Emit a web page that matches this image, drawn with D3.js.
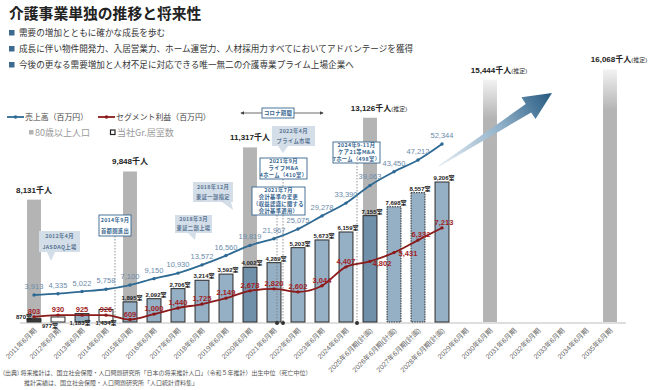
<!DOCTYPE html>
<html><head><meta charset="utf-8">
<script src="https://cdn.jsdelivr.net/npm/d3@7"></script>
<style>
body{margin:0;background:#fff;}
svg{display:block;font-family:"Liberation Sans","Noto Sans CJK JP",sans-serif;}
</style></head><body>
<svg id="c" width="651" height="390"></svg>
<script>
// ---------- data ----------
const categories = ["2011年6月期","2012年6月期","2013年6月期","2014年6月期","2015年6月期","2016年6月期","2017年6月期","2018年6月期","2019年6月期","2020年6月期","2021年6月期","2022年6月期","2023年6月期","2024年6月期","2025年6月期(計画)","2026年6月期(計画)","2027年6月期(計画)","2028年6月期(計画)","2029年6月期","2030年6月期","2031年6月期","2032年6月期","2033年6月期","2034年6月期","2035年6月期"];
const sales  = [3913,4335,5022,5758,7100,9150,10930,13572,16560,19819,21967,25075,29278,33390,39063,43450,47212,52344];
const profit = [803,930,925,926,609,1000,1440,1725,2149,2678,2820,2602,3044,4407,4802,5431,6332,7213];
const rooms  = [870,977,1183,1434,1895,2092,2706,3214,3592,4002,4289,5203,5673,6159,7155,7698,8557,9206];
const popCategories = ["2011年6月期","2015年6月期","2020年6月期","2025年6月期(計画)","2030年6月期","2035年6月期"];
const population = [8131,9848,11317,13126,15444,16068];
const popEstimated = [false,false,false,true,true,true];
const title = "介護事業単独の推移と将来性";
const bullets = ["需要の増加とともに確かな成長を歩む","成長に伴い物件開発力、入居営業力、ホーム運営力、人材採用力すべてにおいてアドバンテージを獲得","今後の更なる需要増加と人材不足に対応できる唯一無二の介護専業プライム上場企業へ"];

// ---------- layout / style (not data) ----------
const BASE = 322;
const svg = d3.select("#c");
const defs = svg.append("defs");
const fmt = d3.format(",");

const x = d3.scaleBand().domain(categories).range([22,622]).paddingInner(0.42).paddingOuter(0.21);
const xc = c => x(c) + x.bandwidth()/2;
const yBar = d3.scaleLinear().domain([670,20000]).range([BASE,5]);
const ySales = d3.scaleLinear().domain([0,60000]).range([307.2,120.1]);
const yProfit = d3.scaleLinear().domain([0,10000]).range([328,189.2]);

const gGray = defs.append("linearGradient").attr("id","grayFade").attr("x1",0).attr("y1",0).attr("x2",0).attr("y2",1);
gGray.append("stop").attr("offset","0%").attr("stop-color","#f2f2f2");
gGray.append("stop").attr("offset","16%").attr("stop-color","#b4b4b4");
gGray.append("stop").attr("offset","100%").attr("stop-color","#b4b4b4");

// ---------- title & bullets ----------
svg.append("text").attr("x",9).attr("y",19).attr("font-size",14.8).attr("font-weight","bold")
  .attr("fill","#222").attr("font-family","Noto Sans CJK JP").text(title);
bullets.forEach((b,i)=>{
  const yy = [36,52,68][i];
  svg.append("rect").attr("x",9).attr("y",yy-6).attr("width",5.5).attr("height",5.5).attr("fill","#3d6a91");
  svg.append("text").attr("x",19).attr("y",yy).attr("font-size",8.6).attr("fill","#333")
    .attr("font-family","Noto Sans CJK JP").text(b);
});

// ---------- legend ----------
const lg = svg.append("g").attr("font-family","Noto Sans CJK JP");
lg.append("line").attr("x1",7).attr("x2",24).attr("y1",117).attr("y2",117).attr("stroke","#2e6a94").attr("stroke-width",1.8);
lg.append("circle").attr("cx",15.5).attr("cy",117).attr("r",1.8).attr("fill","#2e6a94");
lg.append("text").attr("x",25).attr("y",120).attr("font-size",7.9).attr("fill","#444").text("売上高（百万円）");
lg.append("line").attr("x1",98).attr("x2",115).attr("y1",117).attr("y2",117).attr("stroke","#8b1a1a").attr("stroke-width",1.8);
lg.append("circle").attr("cx",106.5).attr("cy",117).attr("r",1.8).attr("fill","#8b1a1a");
lg.append("text").attr("x",116).attr("y",120).attr("font-size",7.9).attr("fill","#444").text("セグメント利益（百万円）");
lg.append("rect").attr("x",29).attr("y",130).attr("width",4.5).attr("height",4.5).attr("fill","#b4b4b4");
lg.append("text").attr("x",35).attr("y",136).attr("font-size",9).attr("fill","#999").text("80歳以上人口");
lg.append("rect").attr("x",110.5).attr("y",130).attr("width",4.5).attr("height",4.5).attr("fill","#fff").attr("stroke","#222").attr("stroke-width",1.2);
lg.append("text").attr("x",117).attr("y",136).attr("font-size",9).attr("fill","#999").text("当社Gr.居室数");

// ---------- gray population bars ----------
const bw = x.bandwidth();
const popG = svg.append("g");
popG.selectAll("rect").data(population).join("rect")
  .attr("x",(d,i)=>x(popCategories[i]))
  .attr("y",d=>yBar(d))
  .attr("width",bw)
  .attr("height",d=>BASE-yBar(d))
  .attr("fill",(d,i)=> i>=4 ? "url(#grayFade)" : "#b4b4b4");
popG.selectAll("text").data(population).join("text")
  .attr("x",(d,i)=>xc(popCategories[i]) + (popEstimated[i]?9:0))
  .attr("y",d=>yBar(d)-7)
  .attr("text-anchor","middle")
  .attr("font-size",8).attr("font-weight","bold").attr("fill","#222")
  .each(function(d,i){
    const t = d3.select(this);
    t.append("tspan").text(fmt(d)+"千人");
    if(popEstimated[i]) t.append("tspan").attr("font-size",6).attr("font-weight","normal").attr("fill","#333").text("(推定)");
  });

// ---------- company room bars ----------
const darker = new Set([9,14]);
const dotted = new Set([15,16]);
const roomFill = {0:"#3a3a3a",1:"#ffffff",3:"#ffffff"};
const roomLabelPos = {0:[-10,319],1:[-8,328],2:[-2,325],3:[0,325]};
const roomG = svg.append("g");
roomG.selectAll("rect").data(rooms).join("rect")
  .attr("x",(d,i)=>x(categories[i]))
  .attr("y",d=>yBar(d))
  .attr("width",bw)
  .attr("height",d=>BASE-yBar(d))
  .attr("fill",(d,i)=> roomFill[i] || (darker.has(i) ? "#7090aa" : "#95afc4"))
  .attr("stroke","#2b2b2b").attr("stroke-width",1)
  .attr("stroke-dasharray",(d,i)=> dotted.has(i) ? "1.5,1" : null);

// ---------- axis ----------
svg.append("line").attr("x1",20).attr("x2",626).attr("y1",BASE+1).attr("y2",BASE+1).attr("stroke","#dedede").attr("stroke-width",2);
const ax = svg.append("g").attr("transform",`translate(0,${BASE})`)
  .call(d3.axisBottom(x).tickSize(0).tickPadding(0));
ax.select(".domain").remove();
ax.selectAll("text").attr("y",0).attr("dy",0)
  .attr("transform","translate(3,9) rotate(-45)")
  .attr("text-anchor","end").attr("font-size",7).attr("fill","#666")
  .attr("font-family","Liberation Sans, Noto Sans CJK JP");

roomG.selectAll("text").data(rooms).join("text")
  .attr("x",(d,i)=>xc(categories[i]) + (roomLabelPos[i]?roomLabelPos[i][0]:2))
  .attr("y",(d,i)=> roomLabelPos[i] ? roomLabelPos[i][1] : yBar(d)-2)
  .attr("text-anchor","middle")
  .attr("font-size",6).attr("font-weight","bold").attr("fill","#222")
  .text(d=>fmt(d)+"室");
roomG.raise();

// ---------- dashed event lines ----------
const ann = svg.append("g");
const dashes = [[115,236],[277,215],[283,179],[357,163]];
dashes.forEach(([dx,top])=>{
  ann.append("line").attr("x1",dx).attr("x2",dx).attr("y1",top).attr("y2",BASE)
    .attr("stroke","#777").attr("stroke-width",0.8).attr("stroke-dasharray","1.5,1.5");
});
[277,283,357].forEach(dx=>ann.append("circle").attr("cx",dx).attr("cy",BASE+1).attr("r",2).attr("fill","#333"));

// ---------- lines ----------
const lineS = d3.line().x((d,i)=>xc(categories[i])).y(d=>ySales(d)).curve(d3.curveMonotoneX);
const lineP = d3.line().x((d,i)=>xc(categories[i])).y(d=>yProfit(d)).curve(d3.curveMonotoneX);
svg.append("path").attr("d",lineS(sales)).attr("fill","none").attr("stroke","#2e6a94").attr("stroke-width",1.8);
svg.append("path").attr("d",lineP(profit)).attr("fill","none").attr("stroke","#8b1a1a").attr("stroke-width",1.8);
svg.append("g").selectAll("circle").data(sales).join("circle")
  .attr("cx",(d,i)=>xc(categories[i])).attr("cy",d=>ySales(d)).attr("r",1.7).attr("fill","#2e6a94");
svg.append("g").selectAll("circle").data(profit).join("circle")
  .attr("cx",(d,i)=>xc(categories[i])).attr("cy",d=>yProfit(d)).attr("r",1.7).attr("fill","#8b1a1a");

svg.append("g").selectAll("text").data(sales).join("text")
  .attr("x",(d,i)=>xc(categories[i])).attr("y",d=>ySales(d)-6)
  .attr("text-anchor","middle").attr("font-size",7.5).attr("fill","#6a8bab")
  .text(d=>fmt(d));
const pOff = {14:[12,8],15:[14,6],16:[3,0],17:[2,0]};
svg.append("g").selectAll("text").data(profit).join("text")
  .attr("x",(d,i)=>xc(categories[i]) + (pOff[i]?pOff[i][0]:0))
  .attr("y",(d,i)=>yProfit(d)-3 + (pOff[i]?pOff[i][1]:0))
  .attr("text-anchor","middle").attr("font-size",7.5).attr("font-weight","bold").attr("fill","#a01e24")
  .text(d=>fmt(d));

// ---------- annotation boxes ----------
const boxes = [
  {x:39,y:231,w:41,h:21,type:"call",lines:["2012年4月","JASDAQ上場"],tail:[[47,252],[55,252],[51,261]]},
  {x:99,y:215,w:32,h:21,type:"box",lines:["2014年9月","首都圏進出"]},
  {x:175,y:215,w:37,h:18,type:"call",lines:["2018年3月","東証二部上場"],tail:[[188,233],[196,233],[195,240]]},
  {x:193,y:182,w:40,h:20,type:"call",lines:["2018年12月","東証一部指定"],tail:[[222,202],[231,202],[233,210]]},
  {x:252,y:187,w:53,h:28,type:"box",lines:["2021年7月","会計基準の変更","（収益認識に関する","会計基準適用）"]},
  {x:260,y:158,w:47,h:21,type:"box",lines:["2021年9月","ライフM&A","4ホーム（410室）"]},
  {x:272,y:126,w:43,h:20,type:"call",lines:["2022年4月","プライム市場"],tail:[[278,146],[288,146],[283,153]]},
  {x:262,y:108,w:32,h:10,type:"box",lines:["コロナ期間"]},
  {x:333,y:142,w:47,h:21,type:"box",lines:["2024年9-11月","ケア21等M&A","7ホーム（498室）"]}
];
defs.append("marker").attr("id","ah").attr("viewBox","0 0 6 6").attr("refX",5).attr("refY",3)
  .attr("markerWidth",5).attr("markerHeight",5).attr("orient","auto-start-reverse")
  .append("path").attr("d","M0,0L6,3L0,6Z").attr("fill","#444");
svg.append("line").attr("x1",241).attr("x2",323).attr("y1",113).attr("y2",113).attr("stroke","#444").attr("stroke-width",0.8)
  .attr("marker-start","url(#ah)").attr("marker-end","url(#ah)");

const bg = svg.append("g").attr("font-family","Noto Sans CJK JP");
boxes.forEach(b=>{
  if(b.type==="call"){
    bg.append("path").attr("d","M"+b.tail.map(p=>p.join(",")).join("L")+"Z").attr("fill","#d3dee8");
    bg.append("rect").attr("x",b.x).attr("y",b.y).attr("width",b.w).attr("height",b.h).attr("fill","#d3dee8");
  } else {
    bg.append("rect").attr("x",b.x).attr("y",b.y).attr("width",b.w).attr("height",b.h).attr("fill","#fff")
      .attr("stroke","#35658f").attr("stroke-width",0.9);
  }
  const n = b.lines.length, lh = b.h/n;
  b.lines.forEach((t,k)=>{
    bg.append("text").attr("x",b.x+b.w/2).attr("y",b.y + lh*(k+0.5) + 1.9)
      .attr("text-anchor","middle").attr("font-size",5.3).attr("font-weight","bold")
      .attr("letter-spacing",0.35)
      .attr("fill", b.type==="call" ? "#5a7593" : "#35658f").text(t);
  });
});

// ---------- big growth arrow ----------
const T=[439,166], P=[552,93];
const dxv=P[0]-T[0], dyv=P[1]-T[1], L=Math.hypot(dxv,dyv);
const u=[dxv/L,dyv/L], nrm=[-u[1],u[0]];
const B=[P[0]-28*u[0], P[1]-28*u[1]];
const pt=(o,s,k)=>[o[0]+k*nrm[0]*s, o[1]+k*nrm[1]*s];
const arrowPts=[pt(T,0.6,1), pt(B,5,1), pt(B,13,1), P, pt(B,13,-1), pt(B,5,-1), pt(T,0.6,-1)];
const ag = defs.append("linearGradient").attr("id","arrowGrad").attr("gradientUnits","userSpaceOnUse")
  .attr("x1",T[0]).attr("y1",T[1]).attr("x2",P[0]).attr("y2",P[1]);
ag.append("stop").attr("offset","0%").attr("stop-color","#e6edf3");
ag.append("stop").attr("offset","55%").attr("stop-color","#8fb0c8");
ag.append("stop").attr("offset","100%").attr("stop-color","#24587f");
svg.append("path").attr("d","M"+arrowPts.map(p=>p.join(",")).join("L")+"Z").attr("fill","url(#arrowGrad)");

// ---------- footnote ----------
const fn = svg.append("g").attr("font-family","Noto Sans CJK JP").attr("font-size",6).attr("fill","#555");
fn.append("text").attr("x",3).attr("y",375).text("(出典) 将来推計は、国立社会保障・人口問題研究所「日本の将来推計人口」（令和５年推計）出生中位（死亡中位）");
fn.append("text").attr("x",24).attr("y",385).text("推計実績は、国立社会保障・人口問題研究所「人口統計資料集」");
</script>
</body></html>
